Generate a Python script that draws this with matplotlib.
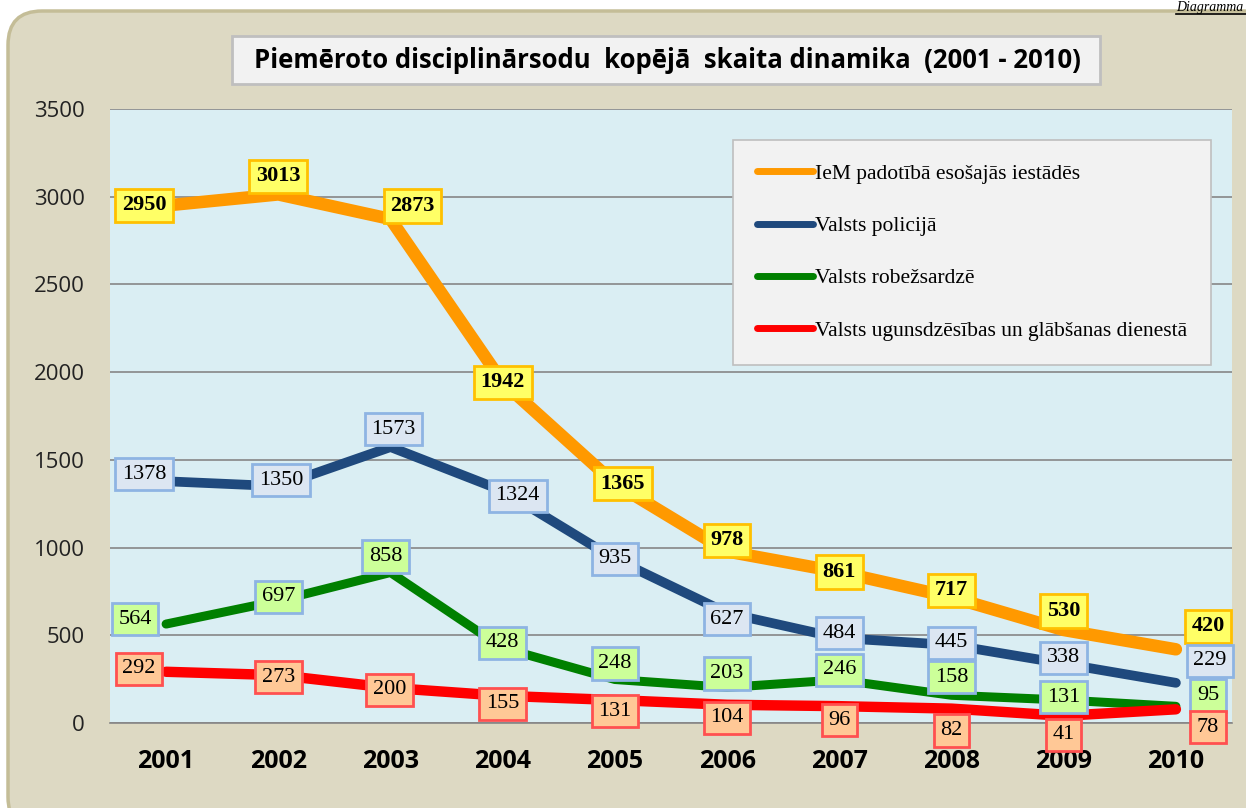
import matplotlib.pyplot as plt
from matplotlib.patches import FancyBboxPatch, Rectangle
import numpy as np

# dati
gadi = ['2001', '2002', '2003', '2004', '2005', '2006', '2007', '2008', '2009', '2010']
iem = [2950, 3013, 2873, 1942, 1365, 978, 861, 717, 530, 420]
policija = [1378, 1350, 1573, 1324, 935, 627, 484, 445, 338, 229]
robezsardze = [564, 697, 858, 428, 248, 203, 246, 158, 131, 95]
ugunsdzesiba = [292, 273, 200, 155, 131, 104, 96, 82, 41, 78]
nosaukumi = ['IeM padotībā esošajās iestādēs', 'Valsts policijā',
             'Valsts robežsardzē', 'Valsts ugunsdzēsības un glābšanas dienestā']

# etikešu nobīdes pikseļos (x pa labi, y uz leju)
nob_iem = [(-22, 0), (0, -18), (22, -13), (0, 0), (8, 0), (0, -11), (0, 0), (0, -7), (0, -19), (32, -23)]
nob_pol = [(-22, -7), (3, -6), (3, -18), (15, 5), (0, 0), (0, 6), (0, -5), (0, -2), (0, -6), (34, -22)]
nob_rob = [(-31, -5), (0, -4), (-5, -16), (0, -5), (0, -16), (0, -14), (0, -10), (0, -18), (0, -3), (32, -11)]
nob_ugu = [(-27, -3), (0, 2), (-1, 2), (0, 8), (0, 11), (0, 13), (0, 14), (0, 22), (0, 19), (32, 18)]

W, H = 1246, 808
fig = plt.figure(figsize=(W / 100, H / 100), dpi=100)
fig.patch.set_facecolor('white')

# fona panelis pikseļu koordinātēs
bg = fig.add_axes([0, 0, 1, 1])
bg.set_xlim(0, W)
bg.set_ylim(H, 0)
bg.axis('off')
bg.add_patch(FancyBboxPatch((8, 11), 1270, 820, boxstyle='round,pad=0,rounding_size=34',
                            facecolor='#DDD9C3', edgecolor='#C4BD97', linewidth=2.5))
bg.add_patch(Rectangle((232, 36), 868, 48, facecolor='#F2F2F2', edgecolor='#BFBFBF', linewidth=2))
bg.text(667, 61, 'Piemēroto disciplinārsodu  kopējā  skaita dinamika  (2001 - 2010)',
        ha='center', va='center', fontsize=18.5, fontweight='bold', family='Open Sans')
bg.text(1243, 1, 'Diagramma', ha='right', va='top', fontsize=10, style='italic',
        family='Liberation Serif')
bg.plot([1176, 1246], [14, 14], color='black', linewidth=1.2)

x0, x1, ytop, ybot = 110, 1232, 109, 723
ax = fig.add_axes([x0 / W, (H - ybot) / H, (x1 - x0) / W, (ybot - ytop) / H])
ax.set_facecolor('#DAEEF3')
x = np.arange(len(gadi))
ax.set_xlim(-0.5, len(gadi) - 0.5)
ax.set_ylim(0, 3500)
ax.set_yticks(np.arange(0, 3501, 500))
ax.yaxis.grid(True, color='#868686', linewidth=1.2)
ax.set_axisbelow(True)
for s in ['top', 'right', 'left']:
    ax.spines[s].set_visible(False)
ax.spines['bottom'].set_color('#868686')
ax.spines['bottom'].set_linewidth(1.2)
ax.tick_params(length=0)
ax.tick_params(axis='y', pad=18, labelsize=16)
ax.tick_params(axis='x', pad=19, labelsize=18)
ax.set_xticks(x)
ax.set_xticklabels(gadi, fontweight='bold', family='Open Sans')
for t in ax.get_yticklabels():
    t.set_family('Open Sans')
    t.set_color('#222222')

serijas = [
    (iem, '#FF9900', 9, '#FFFF66', '#FFC000', 'bold', nob_iem),
    (policija, '#1F497D', 7, '#DCE6F2', '#8EB4E3', 'normal', nob_pol),
    (robezsardze, '#008000', 6.5, '#CCFF99', '#8EB4E3', 'normal', nob_rob),
    (ugunsdzesiba, '#FF0000', 7.5, '#FFC896', '#FF5050', 'normal', nob_ugu),
]
for (vert, kr, lw, fill, mala, sv, nob), nos in zip(serijas, nosaukumi):
    ax.plot(x, vert, color=kr, linewidth=lw, solid_capstyle='round', label=nos)
for (vert, kr, lw, fill, mala, sv, nob) in serijas:
    for xi, v, (dx, dy) in zip(x, vert, nob):
        ax.annotate(str(v), (xi, v), xytext=(dx, -dy), textcoords='offset pixels',
                    ha='center', va='center', fontsize=16, fontweight=sv,
                    family='Liberation Serif', annotation_clip=False, zorder=5,
                    bbox=dict(boxstyle='square,pad=0.3', facecolor=fill, edgecolor=mala, linewidth=2))

leg = ax.legend(loc='upper left', bbox_to_anchor=((733 - x0) / (x1 - x0), (ybot - 140) / (ybot - ytop)),
                prop={'family': 'Liberation Serif', 'size': 15.5}, handlelength=2.6, handletextpad=0.1,
                labelspacing=1.5, borderpad=1.1, borderaxespad=0, fancybox=False,
                facecolor='#F2F2F2', edgecolor='#BFBFBF', framealpha=1)
for l in leg.get_lines():
    l.set_linewidth(5)
leg.get_frame().set_linewidth(1.2)

fig.savefig('out.png', dpi=100)
